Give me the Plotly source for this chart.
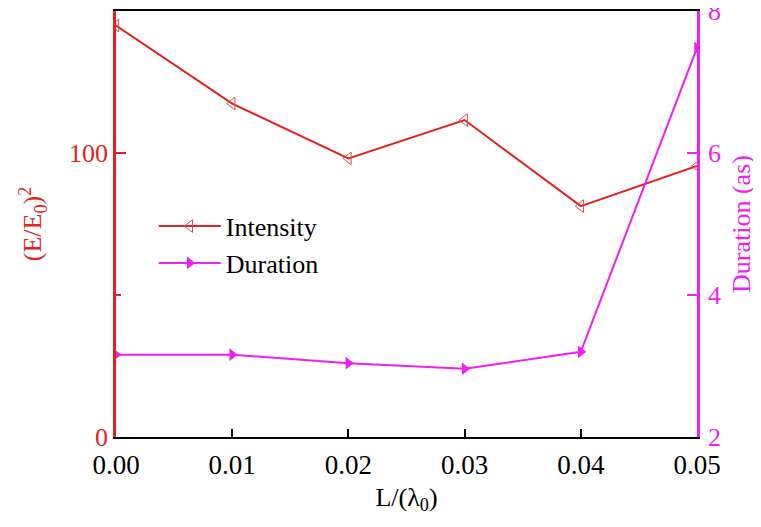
import plotly.graph_objects as go

x_vals = [0.00, 0.01, 0.02, 0.03, 0.04, 0.05]
intensity = [144.9, 117.4, 98.1, 111.6, 81.3, 95.4]
duration = [3.16, 3.16, 3.04, 2.96, 3.20, 7.48]
x_ticks = [0.00, 0.01, 0.02, 0.03, 0.04, 0.05]
x_tick_text = ["0.00", "0.01", "0.02", "0.03", "0.04", "0.05"]
y1_ticks = [0, 100]
y1_minor = [50]
y2_ticks = [2, 4, 6, 8]

RED = "#E3211E"
MAG = "#F020F0"
FONT = "Liberation Serif"

fig = go.Figure()
fig.add_trace(go.Scatter(
    x=x_vals, y=intensity, name="Intensity", mode="lines+markers",
    line=dict(color=RED, width=2),
    marker=dict(symbol="triangle-left-open", size=11, color="#D05050", line=dict(width=1)),
    yaxis="y",
))
fig.add_trace(go.Scatter(
    x=x_vals, y=duration, name="Duration", mode="lines+markers",
    line=dict(color=MAG, width=2),
    marker=dict(symbol="triangle-right", size=11, color=MAG),
    yaxis="y2",
))

# the page body adds an 8px margin, so the figure is sized 8px smaller
fig.update_layout(
    width=753, height=519,
    margin=dict(l=108, r=64, t=3, b=90),
    plot_bgcolor="white", paper_bgcolor="white",
    font=dict(family=FONT, size=26, color="black"),
    showlegend=True,
    legend=dict(x=0.065, y=0.55, xanchor="left", yanchor="top",
                bgcolor="rgba(0,0,0,0)", font=dict(family=FONT, size=26),
                itemwidth=62, tracegroupgap=0),
    xaxis=dict(
        range=[0, 0.05], tickvals=x_ticks, ticktext=x_tick_text,
        ticks="inside", ticklen=8, tickwidth=1.5, tickcolor="black",
        showline=True, linecolor="black", linewidth=2, mirror=True,
        showgrid=False, zeroline=False, automargin=False,
        ticklabelstandoff=3, ticklabeloverflow="allow",
        tickfont=dict(family=FONT, size=27, color="black"),
        title=dict(text="L/(λ<sub>0</sub>)", font=dict(family=FONT, size=26), standoff=8),
    ),
    yaxis=dict(
        range=[0, 150], tickvals=y1_ticks, ticks="inside", ticklen=10, tickwidth=2,
        tickcolor=RED, showline=True, linecolor=RED, linewidth=2.5,
        showgrid=False, zeroline=False, automargin=False, ticklabeloverflow="allow",
        minor=dict(tickvals=y1_minor, ticks="inside", ticklen=5, tickwidth=2, tickcolor=RED),
        tickfont=dict(family=FONT, size=26, color=RED),
        title=dict(text="(E/E<sub>0</sub>)<sup>2</sup>", font=dict(family=FONT, size=26, color=RED), standoff=20),
    ),
    yaxis2=dict(
        range=[2, 8], tickvals=y2_ticks, ticks="inside", ticklen=10, tickwidth=2,
        tickcolor=MAG, showline=True, linecolor=MAG, linewidth=2.5,
        overlaying="y", side="right", anchor="x",
        showgrid=False, zeroline=False, automargin=False,
        ticklabelstandoff=3, ticklabeloverflow="allow",
        tickfont=dict(family=FONT, size=26, color=MAG),
        title=dict(text="Duration (as)", font=dict(family=FONT, size=26, color=MAG), standoff=12),
    ),
)

fig.write_html("out.html")
